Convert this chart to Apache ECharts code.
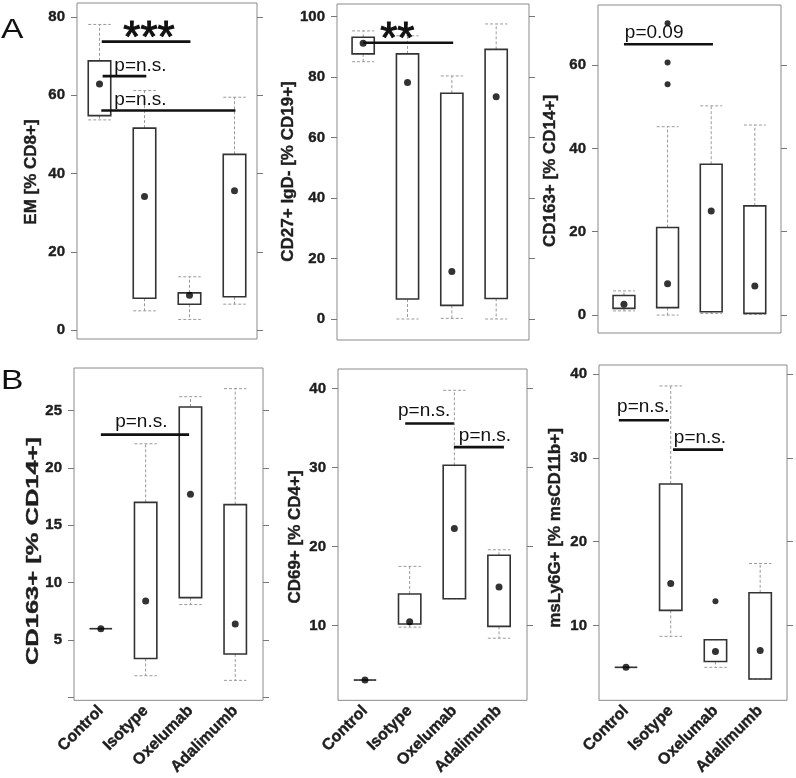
<!DOCTYPE html>
<html>
<head>
<meta charset="utf-8">
<script src="https://cdn.jsdelivr.net/npm/echarts@6/dist/echarts.min.js"></script>
<style>
html,body{margin:0;padding:0;background:#fff;}
#chart{width:796px;height:778px;}
</style>
</head>
<body>
<div id="chart"></div>
<script>
// ---------------- data ----------------
const categories = ['Control', 'Isotype', 'Oxelumab', 'Adalimumb'];

// each box: [lower whisker, Q1, Q3, upper whisker]
const a1Boxes = [[53.7, 54.8, 68.8, 78.1], [4.9, 8.1, 51.6, 61.2], [2.7, 6.6, 9.5, 13.6], [6.6, 8.5, 44.9, 59.5]];
const a1Dots = [62.9, 34.1, 8.9, 35.6];
const a1Outliers = [];
// significance: [x from, x to, y, label, label x, label y]
const a1Sig = [[1.05, 3.02, 73.7, '***', 2.1, 74.2], [1.07, 2.04, 64.9, 'p=n.s.', 1.33, 67.6], [1.04, 4.02, 56.1, 'p=n.s.', 1.33, 58.8]];

const a2Boxes = [[85.1, 87.7, 93.2, 95.3], [0, 6.6, 87.7, 93.7], [0.2, 4.5, 74.7, 80.4], [0, 6.8, 89.2, 97.6]];
const a2Dots = [91.2, 78.2, 15.7, 73.5];
const a2Outliers = [];
const a2Sig = [[1.0, 3.03, 91.4, '**', 1.77, 92.0]];

const a3Boxes = [[1.0, 1.6, 4.7, 5.8], [0, 1.8, 21.0, 45.2], [0.4, 0.8, 36.2, 50.2], [0.2, 0.4, 26.2, 45.6]];
const a3Dots = [2.6, 7.5, 25.0, 7.0];
const a3Outliers = [[2, 70.0], [2, 60.6], [2, 55.4]];
const a3Sig = [[1.0, 3.04, 65.0, 'p=0.09', 1.02, 67.7]];

const b1Boxes = [[6.0, 6.0, 6.0, 6.0], [1.9, 3.4, 17.0, 22.1], [8.1, 8.7, 25.3, 26.2], [1.5, 3.8, 16.8, 26.9]];
const b1Dots = [6.0, 8.4, 17.7, 6.4];
const b1Outliers = [];
const b1Sig = [[1.0, 2.97, 22.9, 'p=n.s.', 1.32, 24.05]];

const b2Boxes = [[3.1, 3.1, 3.1, 3.1], [9.8, 10.2, 14.0, 17.5], [13.4, 13.4, 30.3, 39.8], [8.4, 9.9, 18.9, 19.6]];
const b2Dots = [3.1, 10.5, 22.3, 14.9];
const b2Outliers = [];
const b2Sig = [[1.9, 2.99, 35.6, 'p=n.s.', 1.74, 37.2], [2.99, 4.11, 32.6, 'p=n.s.', 3.1, 34.1]];

const b3Boxes = [[5.0, 5.0, 5.0, 5.0], [8.7, 11.8, 26.9, 38.6], [5.0, 5.7, 8.3, 8.3], [3.6, 3.6, 13.9, 17.4]];
const b3Dots = [5.0, 15.0, 6.9, 7.0];
const b3Outliers = [[3, 12.9]];
const b3Sig = [[0.84, 1.96, 34.5, 'p=n.s.', 0.8, 36.1], [2.05, 3.17, 31.0, 'p=n.s.', 2.07, 32.4]];

const a1Ticks = [0, 20, 40, 60, 80];
const a2Ticks = [0, 20, 40, 60, 80, 100];
const a3Ticks = [0, 20, 40, 60];
const b1Ticks = [0, 5, 10, 15, 20, 25];
const b1TickLabels = [5, 10, 15, 20, 25];
const b2Ticks = [10, 20, 30, 40];
const b3Ticks = [10, 20, 30, 40];

// ---------------- layout ----------------
const FONT = "'Liberation Sans', Arial, sans-serif";
const INK = '#1e1e1e';
const panels = [
  {left: 77, top: 3, width: 180, height: 336, xMin: 0.5, xMax: 4.5, yMin: -2.3, yMax: 83.58,
   ticks: a1Ticks, labels: a1Ticks, boxes: a1Boxes, dots: a1Dots, outliers: a1Outliers, sig: a1Sig,
   title: 'EM [% CD8+]', tx: 31, ty: 172, tscale: 1, cats: false},
  {left: 337, top: 4, width: 192, height: 336, xMin: 0.41, xMax: 4.74, yMin: -6.95, yMax: 104.2,
   ticks: a2Ticks, labels: a2Ticks, boxes: a2Boxes, dots: a2Dots, outliers: a2Outliers, sig: a2Sig,
   title: 'CD27+ IgD- [% CD19+]', tx: 288, ty: 171.5, tscale: 1, cats: false},
  {left: 598, top: 5, width: 183, height: 328, xMin: 0.405, xMax: 4.6, yMin: -4.3, yMax: 74.4,
   ticks: a3Ticks, labels: a3Ticks, boxes: a3Boxes, dots: a3Dots, outliers: a3Outliers, sig: a3Sig,
   title: 'CD163+ [% CD14+]', tx: 550, ty: 171, tscale: 1, cats: false},
  {left: 74, top: 368, width: 189, height: 335, xMin: 0.4, xMax: 4.62, yMin: -0.24, yMax: 28.7,
   ticks: b1Ticks, labels: b1TickLabels, boxes: b1Boxes, dots: b1Dots, outliers: b1Outliers, sig: b1Sig,
   title: 'CD163+ [% CD14+]', tx: 33, ty: 551, tscale: 1.5, cats: true},
  {left: 338, top: 369, width: 189, height: 337, xMin: 0.396, xMax: 4.626, yMin: 0.53, yMax: 42.5,
   ticks: b2Ticks, labels: b2Ticks, boxes: b2Boxes, dots: b2Dots, outliers: b2Outliers, sig: b2Sig,
   title: 'CD69+ [% CD4+]', tx: 295, ty: 537, tscale: 1, cats: true},
  {left: 599, top: 365, width: 188, height: 336, xMin: 0.396, xMax: 4.6, yMin: 1.06, yMax: 41.1,
   ticks: b3Ticks, labels: b3Ticks, boxes: b3Boxes, dots: b3Dots, outliers: b3Outliers, sig: b3Sig,
   title: 'msLy6G+ [% msCD11b+]', tx: 555, ty: 528, tscale: 1, cats: true}
];

const grid = [], xAxis = [], yAxis = [], series = [], graphic = [];

function boxRenderer(params, api) {
  const x = api.value(0);
  const wlo = api.value(1), q1 = api.value(2), q3 = api.value(3), whi = api.value(4);
  const w = api.size([0.5, 0])[0];
  const pLo = api.coord([x, wlo]), p1 = api.coord([x, q1]), p3 = api.coord([x, q3]), pHi = api.coord([x, whi]);
  const cx = p1[0];
  const dash = {stroke: '#9a9a9a', lineWidth: 1, lineDash: [3, 2], fill: null};
  const children = [
    {type: 'line', shape: {x1: cx, y1: p3[1], x2: cx, y2: pHi[1]}, style: dash},
    {type: 'line', shape: {x1: cx, y1: p1[1], x2: cx, y2: pLo[1]}, style: dash},
    {type: 'line', shape: {x1: cx - w / 2, y1: pHi[1], x2: cx + w / 2, y2: pHi[1]}, style: dash},
    {type: 'line', shape: {x1: cx - w / 2, y1: pLo[1], x2: cx + w / 2, y2: pLo[1]}, style: dash}
  ];
  const h = p1[1] - p3[1];
  if (h < 1) {
    children.push({type: 'line', shape: {x1: cx - w / 2, y1: p1[1], x2: cx + w / 2, y2: p1[1]},
      style: {stroke: '#333', lineWidth: 1.6}});
  } else {
    children.push({type: 'rect', shape: {x: cx - w / 2, y: p3[1], width: w, height: h},
      style: {fill: 'rgba(0,0,0,0)', stroke: '#333', lineWidth: 1.6}});
  }
  return {type: 'group', children: children};
}

function sigRendererFor(sigArr) {
  return function (params, api) {
    const s = sigArr[params.dataIndex];
    const a = api.coord([api.value(0), api.value(2)]);
    const b = api.coord([api.value(1), api.value(2)]);
    const t = api.coord([api.value(3), api.value(4)]);
    const isStar = s[3].charAt(0) === '*';
    return {type: 'group', children: [
      {type: 'line', shape: {x1: a[0], y1: a[1], x2: b[0], y2: b[1]}, style: {stroke: '#111', lineWidth: 2.6}},
      {type: 'text', x: t[0], y: t[1], style: {
        text: s[3], fill: '#111',
        font: isStar ? ('44px ' + FONT) : ('19px ' + FONT),
        stroke: isStar ? '#111' : null, lineWidth: isStar ? 1 : 0,
        textAlign: isStar ? 'center' : 'left', textVerticalAlign: 'middle'}}
    ]};
  };
}

panels.forEach(function (p, i) {
  grid.push({left: p.left, top: p.top, width: p.width, height: p.height, show: true,
    borderColor: '#8a8a8a', borderWidth: 1, backgroundColor: 'transparent'});
  xAxis.push({type: 'value', gridIndex: i, min: p.xMin, max: p.xMax,
    axisLine: {show: false}, axisTick: {show: false}, splitLine: {show: false},
    axisLabel: p.cats ? {show: true, customValues: [1, 2, 3, 4], rotate: 45, margin: 8,
      formatter: function (v) { return categories[Math.round(v) - 1]; },
      fontFamily: FONT, fontWeight: 'bold', fontSize: 16, color: INK,
      textBorderColor: INK, textBorderWidth: 0.4} : {show: false}});
  yAxis.push({type: 'value', gridIndex: i, min: p.yMin, max: p.yMax, position: 'left',
    axisLine: {show: false}, splitLine: {show: false},
    axisTick: {show: true, customValues: p.ticks, length: 6, lineStyle: {color: '#777'}},
    axisLabel: {show: true, customValues: p.labels, margin: 12, fontFamily: FONT,
      fontWeight: 'bold', fontSize: 15, color: INK, textBorderColor: INK, textBorderWidth: 0.4}});
  yAxis.push({type: 'value', gridIndex: i, min: p.yMin, max: p.yMax, position: 'right',
    axisLine: {show: false}, splitLine: {show: false},
    axisTick: {show: true, customValues: p.ticks, length: 6, lineStyle: {color: '#777'}},
    axisLabel: {show: false}});

  const yi = 2 * i;
  series.push({type: 'custom', xAxisIndex: i, yAxisIndex: yi, clip: false,
    renderItem: boxRenderer, encode: {x: 0, y: [1, 2, 3, 4]},
    data: p.boxes.map(function (b, k) { return [k + 1].concat(b); }), z: 2});
  series.push({type: 'scatter', xAxisIndex: i, yAxisIndex: yi, symbol: 'circle', symbolSize: 7,
    itemStyle: {color: '#000'}, silent: true, z: 3,
    data: p.dots.map(function (v, k) { return [k + 1, v]; })});
  if (p.outliers.length) {
    series.push({type: 'scatter', xAxisIndex: i, yAxisIndex: yi, symbol: 'circle', symbolSize: 6,
      itemStyle: {color: '#000'}, silent: true, z: 3, data: p.outliers});
  }
  series.push({type: 'custom', xAxisIndex: i, yAxisIndex: yi, clip: false, z: 4,
    renderItem: sigRendererFor(p.sig), encode: {x: [0, 1, 3], y: [2, 4]},
    data: p.sig.map(function (s) { return [s[0], s[1], s[2], s[4], s[5]]; })});

  graphic.push({type: 'text', x: p.tx, y: p.ty, rotation: Math.PI / 2, scaleX: p.tscale, scaleY: 1,
    style: {text: p.title, font: 'bold 17px ' + FONT, fill: INK, stroke: INK, lineWidth: 0.4,
      textAlign: 'center', textVerticalAlign: 'middle'}});
});

graphic.push({type: 'text', x: 1, y: 16, scaleX: 1.2,
  style: {text: 'A', font: '28px ' + FONT, fill: '#111', textAlign: 'left', textVerticalAlign: 'top'}});
graphic.push({type: 'text', x: 1, y: 367, scaleX: 1.2,
  style: {text: 'B', font: '28px ' + FONT, fill: '#111', textAlign: 'left', textVerticalAlign: 'top'}});

const chart = echarts.init(document.getElementById('chart'), null, {renderer: 'canvas'});
chart.setOption({
  backgroundColor: '#fff',
  animation: false,
  grid: grid, xAxis: xAxis, yAxis: yAxis, series: series, graphic: graphic
});
</script>
</body>
</html>
